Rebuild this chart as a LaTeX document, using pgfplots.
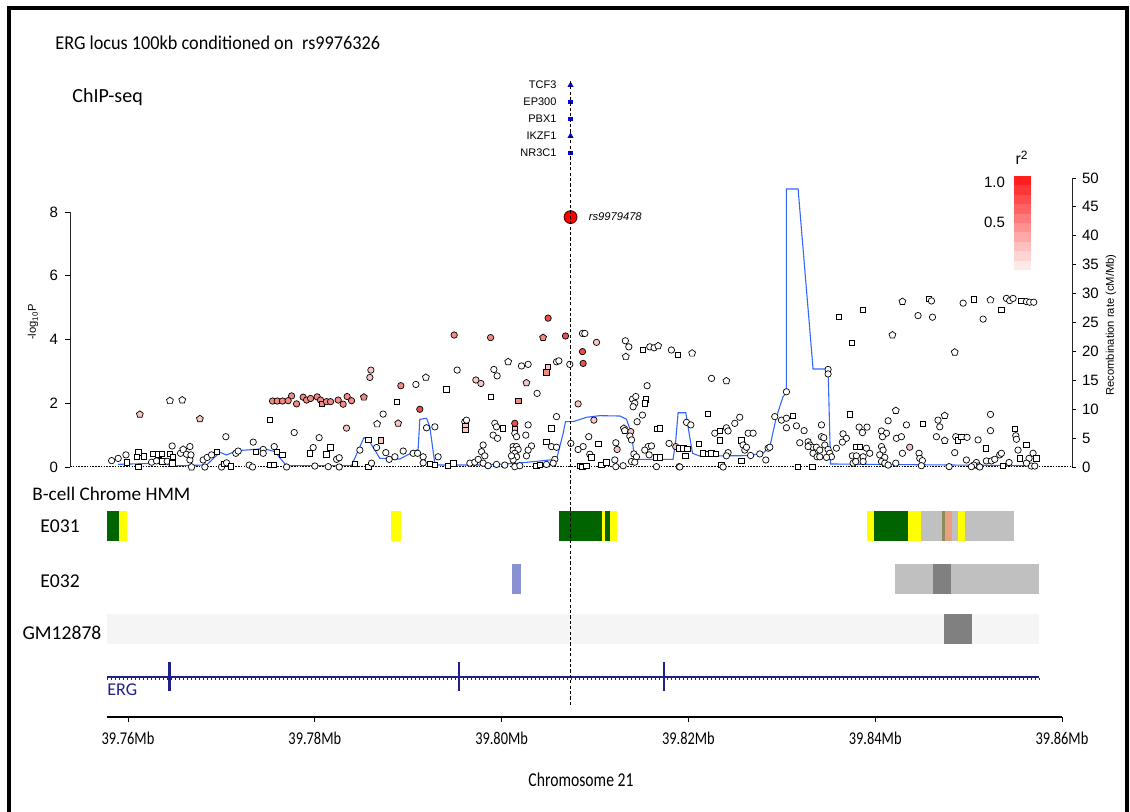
\documentclass[border=0pt]{standalone}
\usepackage{fontspec}
\setmainfont{Carlito}
\newfontfamily\arial{Liberation Sans}
\newfontfamily\cond[FakeStretch=0.8]{Carlito}
\newfontfamily\titlefont[FakeStretch=0.93]{Carlito}
\usepackage{pgfplots}
\pgfplotsset{compat=1.18}
\usepackage{pgfplotstable}
\usetikzlibrary{plotmarks}

\definecolor{recomb}{HTML}{3366FF}
\definecolor{gene}{HTML}{1F1F8C}
\definecolor{pinkA}{HTML}{F7C6C6}
\definecolor{pinkB}{HTML}{F08A84}
\definecolor{pinkC}{HTML}{EC4E4A}
\definecolor{hmmgreen}{HTML}{006400}
\definecolor{hmmyellow}{HTML}{FFFF00}
\definecolor{hmmgray}{HTML}{C0C0C0}
\definecolor{hmmdark}{HTML}{808080}
\definecolor{hmmlight}{HTML}{F5F5F5}
\definecolor{hmmblue}{HTML}{8A91D2}
\definecolor{hmmsalmon}{HTML}{E8A080}
\definecolor{hmmolive}{HTML}{8C8C5A}

\pgfplotstableread{
x y
39758.96 0.46
39762.89 0.63
39764.14 0.92
39764.50 0.17
39768.43 0.35
39769.85 2.54
39770.57 2.08
39771.64 2.82
39773.78 3.06
39774.49 3.23
39775.74 2.65
39776.46 1.21
39776.99 0.23
39783.95 0.23
39785.27 5.07
39785.73 4.79
39786.98 1.50
39789.12 1.38
39791.08 3.06
39791.26 8.25
39791.98 8.43
39792.33 6.97
39792.87 0.52
39793.05 0.35
39798.04 0.35
39801.62 0.63
39805.90 1.33
39806.61 5.83
39806.86 7.84
39807.68 7.84
39809.11 8.60
39810.54 8.88
39812.68 8.82
39813.39 8.25
39813.93 5.83
39814.18 2.37
39814.46 1.33
39818.38 1.33
39818.67 4.67
39818.92 9.39
39819.74 9.39
39820.10 5.83
39820.46 2.37
39821.24 1.90
39826.24 1.96
39828.02 2.37
39828.74 3.51
39829.45 8.70
39830.16 12.16
39830.52 12.85
39830.52 48.10
39831.77 48.10
39833.37 16.96
39834.98 16.96
39835.24 0.52
39856.22 0.23
39857.30 0.23
}\recombtab

\pgfplotstableread{
x y c
39758.26 0.20 cw
39758.96 0.27 cw
39759.79 0.38 cw
39759.86 0.15 sw
39761.10 0.46 sw
39760.93 0.32 sw
39761.71 0.34 sw
39761.10 0.01 sw
39761.28 1.65 tp1
39762.71 0.41 sw
39763.25 0.40 sw
39763.61 0.41 sw
39762.54 0.15 cw
39763.07 0.19 cw
39763.71 0.18 sw
39764.21 0.18 cw
39764.50 0.41 sw
39764.74 0.66 cw
39764.79 0.32 sw
39764.74 0.12 sw
39764.50 2.08 tw
39765.82 2.10 tw
39765.64 0.43 cw
39765.92 0.55 tw
39766.28 0.40 cw
39766.64 0.64 cw
39766.64 0.22 cw
39766.75 0.38 cw
39766.82 0.00 tw
39767.71 1.51 tp1
39768.24 0.00 cw
39768.06 0.22 cw
39768.49 0.30 cw
39768.96 0.38 cw
39769.50 0.47 sw
39770.03 0.00 cw
39770.28 0.09 sw
39770.57 0.13 cw
39771.00 0.02 sw
39770.49 0.95 cw
39771.56 0.43 cw
39771.81 0.50 cw
39772.99 0.06 cw
39773.35 0.00 cw
39773.42 0.78 cw
39773.67 0.48 sw
39774.49 0.55 cw
39774.49 0.43 cw
39775.20 1.48 sw
39775.24 0.06 sw
39775.60 0.06 sw
39775.67 0.64 cw
39775.92 0.48 sw
39776.56 0.38 sw
39776.99 0.00 cw
39777.81 1.08 cw
39777.53 2.23 cp2
39775.49 2.07 cp2
39775.99 2.07 cp2
39776.56 2.07 cp2
39777.16 2.08 cp2
39778.06 1.98 cp2
39778.77 2.19 cp2
39779.13 2.10 cp2
39779.56 2.15 cp2
39780.27 2.20 cp2
39780.63 2.10 cp2
39780.80 1.98 sp2
39781.27 2.05 cp2
39781.70 2.05 cp2
39782.52 2.10 cp2
39783.05 1.97 cp2
39783.48 2.21 cp2
39783.95 2.08 cp2
39785.27 2.19 tp2
39779.84 0.61 cw
39779.49 0.43 sw
39780.48 0.92 cw
39781.27 0.40 sw
39781.70 0.62 sw
39782.35 0.24 cw
39782.63 0.29 cw
39780.02 0.03 cw
39781.45 0.01 cw
39782.63 0.00 cw
39783.41 1.22 cp1
39784.30 0.09 sw
39785.73 0.01 sw
39786.09 0.12 cw
39784.84 0.53 cw
39785.73 0.85 sw
39786.02 3.04 cp1
39785.91 2.81 cp1
39786.63 0.61 cw
39787.06 0.83 sp1
39787.62 0.45 cw
39787.98 0.24 cw
39788.59 0.32 cw
39789.48 0.50 cw
39790.55 0.43 cw
39791.02 0.43 cw
39786.69 1.35 tw
39787.33 1.66 cw
39788.83 2.05 sw
39788.94 1.37 tp1
39789.23 2.55 cp2
39790.84 2.59 cw
39791.26 1.81 cp3
39791.91 2.81 tw
39791.98 1.23 cw
39792.87 1.26 cw
39791.62 0.32 cw
39791.62 0.13 cw
39792.33 0.09 sw
39792.87 0.06 sw
39793.22 0.32 cw
39794.94 4.14 cp2
39798.84 4.06 cp2
39805.00 4.67 cp3
39804.46 4.06 tp2
39806.86 4.11 cp3
39808.68 3.62 cp3
39808.75 3.25 cp3
39810.18 3.91 cp1
39808.68 4.19 cw
39808.93 4.19 cw
39795.26 3.04 cw
39797.26 2.73 cp1
39797.80 2.62 cp1
39799.19 3.06 cw
39799.54 2.86 cw
39800.72 3.30 tw
39802.15 3.17 cw
39802.86 3.22 cw
39802.68 2.64 tp1
39805.90 3.30 cw
39806.15 3.33 cw
39805.00 3.15 sp1
39804.82 2.97 sp2
39807.32 3.22 cw
39794.12 2.44 sw
39798.86 2.21 sw
39801.79 2.07 sp2
39803.82 2.31 cw
39805.90 1.58 cw
39808.21 1.98 cp1
39796.08 1.42 cw
39796.26 1.47 cw
39796.15 1.29 sp1
39796.15 1.16 sp1
39799.29 1.37 cw
39799.47 1.26 cw
39800.18 1.21 sw
39801.43 1.37 cp3
39801.43 1.18 sp1
39802.86 1.32 cw
39801.43 1.06 cw
39801.62 0.95 cw
39799.11 1.00 cw
39799.58 0.90 cw
39798.04 0.69 cw
39802.61 1.00 cw
39804.82 0.79 sw
39805.36 0.64 cw
39805.90 0.62 cw
39807.43 0.74 cw
39805.36 1.21 sw
39801.25 0.64 cw
39801.62 0.64 cw
39801.25 0.53 cw
39801.79 0.55 cw
39801.43 0.43 cw
39801.62 0.32 cw
39801.25 0.22 cw
39801.07 0.35 cw
39803.22 0.66 cw
39802.86 0.53 cw
39802.68 0.35 cw
39797.87 0.48 cw
39798.22 0.35 cw
39798.04 0.12 cw
39796.62 0.12 cw
39797.15 0.15 cw
39797.51 0.24 cw
39794.83 0.12 sw
39794.29 0.04 sw
39798.57 0.04 cw
39799.47 0.08 cw
39800.36 0.06 cw
39801.43 0.01 cw
39801.97 0.04 cw
39803.75 0.04 sw
39804.11 0.06 sw
39804.82 0.08 cw
39805.72 0.24 cw
39805.54 0.12 cw
39808.21 0.55 cw
39808.75 0.64 cw
39808.39 0.04 sw
39808.68 0.01 sw
39809.11 0.04 sw
39809.35 0.95 cw
39809.46 0.40 cw
39809.64 0.30 sw
39810.36 0.72 sw
39810.71 0.06 sw
39811.25 0.15 sw
39809.90 1.47 cp1
39812.25 0.76 cw
39812.39 0.55 cp1
39812.14 0.22 cw
39813.11 1.21 tw
39813.21 1.14 tw
39813.85 1.11 cp1
39813.75 0.97 cw
39813.93 0.85 cw
39814.18 0.41 cw
39814.46 0.32 cw
39813.93 0.17 cw
39814.28 0.15 cw
39812.25 0.01 cw
39813.03 0.04 cw
39813.27 3.96 cw
39813.64 3.77 cw
39813.32 3.46 tw
39815.17 3.67 sw
39815.89 3.77 cw
39816.35 3.74 cw
39816.78 3.80 tw
39818.20 3.67 cw
39818.92 3.51 sw
39820.42 3.57 tw
39815.60 2.55 cw
39822.50 2.78 cw
39814.04 2.13 cw
39814.39 2.21 cw
39815.46 2.12 sw
39814.28 2.00 cw
39814.10 1.89 cw
39815.35 2.00 sw
39815.10 1.63 cw
39814.53 1.42 cw
39816.67 1.20 sw
39816.96 1.21 sw
39815.71 0.64 cw
39815.35 0.53 cw
39815.82 0.38 cw
39816.07 0.66 cw
39816.60 0.30 sw
39816.96 0.30 sw
39816.60 0.01 cw
39817.95 0.74 cw
39818.67 0.64 cp1
39819.03 0.59 sw
39819.46 0.59 sw
39819.93 0.56 sw
39819.71 0.35 sw
39819.03 0.01 cw
39819.82 1.40 cw
39820.28 1.32 cw
39821.17 0.72 sw
39821.60 0.43 sw
39822.13 0.41 sw
39822.49 0.43 sw
39822.85 1.06 cw
39822.96 0.41 sw
39822.13 1.66 sw
39819.10 0.00 cw
39836.15 4.71 sw
39838.73 4.93 sw
39837.51 3.90 sw
39842.94 5.19 tw
39844.61 4.75 cw
39845.79 5.27 sw
39846.05 5.21 cw
39846.16 4.70 cw
39841.87 4.14 tw
39848.54 3.60 tw
39849.44 5.14 cw
39850.58 5.26 sw
39851.58 4.64 cw
39852.37 5.24 tw
39853.54 4.93 sw
39854.08 5.29 cw
39854.43 5.22 cw
39854.79 5.29 cw
39855.68 5.22 sw
39856.22 5.19 cw
39856.57 5.17 cw
39857.00 5.17 cw
39834.98 3.06 cw
39834.98 2.92 cw
39830.52 2.36 cw
39824.09 2.70 tw
39825.52 1.56 cw
39824.99 1.37 cw
39824.09 1.23 cw
39823.38 1.14 sw
39824.27 1.13 cw
39823.38 0.83 sw
39825.70 0.83 sw
39825.88 0.69 cw
39826.06 0.53 cw
39826.24 0.62 cw
39826.42 1.06 cw
39826.95 1.06 cw
39826.68 0.36 cw
39827.67 0.41 cw
39828.31 0.22 cw
39825.70 0.20 sw
39823.56 0.06 sw
39823.74 0.00 cw
39824.27 0.45 cw
39824.09 0.35 cw
39828.56 0.59 cw
39828.74 0.62 cw
39829.27 1.58 cw
39829.99 1.47 cw
39830.52 1.53 cw
39830.52 1.23 cw
39831.23 1.60 sw
39831.59 1.29 cw
39832.41 1.14 cw
39831.95 0.76 cw
39832.84 0.79 cw
39833.02 0.69 cw
39833.31 0.62 cw
39833.73 0.62 cw
39834.09 0.53 cw
39833.37 0.43 cw
39833.80 0.32 cw
39832.84 0.64 cw
39834.27 1.32 cw
39834.27 0.95 cw
39834.52 0.92 cw
39834.63 0.69 cw
39834.98 0.55 cw
39835.16 0.43 cw
39835.34 0.32 cw
39834.81 0.30 cw
39834.09 0.32 cw
39831.77 0.00 sw
39833.31 0.00 sw
39835.87 0.59 cw
39836.58 1.04 cw
39836.94 0.90 cw
39836.51 0.78 cw
39837.30 1.65 sw
39838.01 0.64 sw
39838.37 0.64 sw
39839.08 0.59 cw
39839.44 0.43 cw
39838.30 1.25 cw
39838.66 1.08 cw
39839.15 1.25 cw
39837.58 0.35 cw
39838.01 0.35 cw
39838.73 0.32 cw
39837.66 0.12 cw
39837.94 0.17 cw
39838.73 0.17 cw
39840.70 1.13 cw
39841.23 1.06 cw
39841.41 1.45 cw
39840.80 0.95 cw
39842.30 0.90 cw
39842.83 0.95 cw
39840.70 0.64 cw
39840.87 0.53 cw
39840.51 0.38 cw
39841.05 0.30 cw
39840.70 0.17 cw
39841.05 0.12 cw
39841.41 0.06 cw
39842.23 0.12 cw
39842.23 1.77 tw
39843.37 1.32 cw
39845.15 1.35 sw
39846.75 1.47 cw
39847.47 1.61 tw
39846.94 1.26 cw
39846.58 0.95 cw
39847.47 0.83 tw
39842.94 0.43 cw
39843.72 0.62 cp1
39844.72 0.43 cw
39844.80 0.27 cw
39845.08 0.20 cw
39844.97 0.04 cw
39848.54 0.45 cw
39848.65 0.95 cw
39848.90 0.83 sw
39849.26 0.95 sw
39849.86 0.93 cw
39851.04 0.85 cw
39852.37 1.14 cw
39852.37 1.65 cw
39849.79 0.22 cw
39850.86 0.14 cw
39851.04 0.03 cw
39850.58 0.06 cw
39851.86 0.59 sw
39851.93 0.19 cw
39852.47 0.19 cw
39852.83 0.24 cw
39853.36 0.38 cw
39853.54 0.43 cw
39853.72 0.04 sw
39854.36 0.14 cw
39854.97 1.19 sw
39855.08 0.98 cw
39855.15 0.87 cw
39855.32 0.53 cw
39856.22 0.69 sw
39856.50 0.27 cw
39855.50 0.27 sw
39856.93 0.43 cw
39857.29 0.27 sw
39856.75 0.03 cw
39857.11 0.03 cw
39856.22 0.12 cw
39847.94 0.01 cw
39850.33 0.01 cw
39851.22 0.00 cw
}\snps

\newcommand\trk[5]{\addplot[fill=#1,draw=none,forget plot] coordinates {(#2,#4) (#3,#4) (#3,#5) (#2,#5)};}

\begin{document}
\begin{tikzpicture}
\useasboundingbox (0,0) rectangle (565pt,406pt);

% right axis: recombination rate
\begin{axis}[
  at={(35pt,172.5pt)}, anchor=south west, scale only axis,
  width=501pt, height=144.5pt,
  xmin=39753.8, xmax=39861.1, ymin=0, ymax=50,
  axis x line=none, axis y line*=right,
  ytick={0,5,...,50},
  tick align=outside, major tick length=1.8pt,
  every tick/.style={black, line width=0.4pt},
  axis line style={line width=0.5pt, black!85},
  yticklabel style={font=\arial\fontsize{7.5}{8}\selectfont, xshift=-0.3pt},
  /pgf/number format/assume math mode=true,
  scaled x ticks=false,
  clip=false,
]
\addplot[recomb, line width=0.55pt] table[x=x,y=y] {\recombtab};
\end{axis}

% left axis: -log10 P
\begin{axis}[
  at={(35pt,172.5pt)}, anchor=south west, scale only axis,
  width=501pt, height=127.5pt,
  xmin=39753.8, xmax=39861.1, ymin=0, ymax=8,
  axis x line=none, axis y line*=left,
  ytick={0,2,4,6,8},
  tick align=outside, major tick length=2.5pt,
  every tick/.style={black, line width=0.4pt},
  axis line style={line width=0.5pt, black!85},
  yticklabel style={font=\arial\fontsize{7.5}{8}\selectfont},
  /pgf/number format/assume math mode=true,
  scaled x ticks=false,
  clip=false,
]
\addplot[black, line width=0.5pt, dash pattern=on 0.8pt off 0.6pt] coordinates {(39753.8,0) (39861.1,0)};
\addplot[scatter, only marks, scatter src=explicit symbolic, mark size=1.6pt, line width=0.35pt,
  scatter/classes={
    cw={mark=*,draw=black,fill=white},
    sw={mark=square*,mark size=1.35pt,draw=black,fill=white},
    tw={mark=pentagon*,mark size=1.8pt,draw=black,fill=white},
    cp1={mark=*,draw=black,fill=pinkA},
    sp1={mark=square*,mark size=1.35pt,draw=black,fill=pinkA},
    tp1={mark=pentagon*,mark size=1.8pt,draw=black,fill=pinkA},
    cp2={mark=*,draw=black,fill=pinkB},
    sp2={mark=square*,mark size=1.35pt,draw=black,fill=pinkB},
    tp2={mark=pentagon*,mark size=1.8pt,draw=black,fill=pinkB},
    cp3={mark=*,draw=black,fill=pinkC}
  }] table[x=x,y=y,meta=c] {\snps};
% lead SNP
\addplot[only marks, mark=*, mark size=3.2pt, line width=0.5pt, draw=black!60!red, fill=red] coordinates {(39807.4,7.84)};
\node[anchor=west, font=\arial\itshape\fontsize{5.6}{6}\selectfont] at (axis cs:39807.4,7.84) [xshift=5.6pt] {rs9979478};
% ChIP-seq marks
\addplot[only marks, mark=triangle*, mark size=1.4pt, blue] coordinates {(39807.4,11.98) (39807.4,10.38)};
\addplot[only marks, mark=square*, mark size=0.9pt, blue] coordinates {(39807.4,11.45) (39807.4,10.92) (39807.4,9.85)};
\node[anchor=east, font=\arial\fontsize{5.5}{6}\selectfont] at (axis cs:39807.4,11.98) [xshift=-3.5pt] {TCF3};
\node[anchor=east, font=\arial\fontsize{5.5}{6}\selectfont] at (axis cs:39807.4,11.45) [xshift=-3.5pt] {EP300};
\node[anchor=east, font=\arial\fontsize{5.5}{6}\selectfont] at (axis cs:39807.4,10.92) [xshift=-3.5pt] {PBX1};
\node[anchor=east, font=\arial\fontsize{5.5}{6}\selectfont] at (axis cs:39807.4,10.38) [xshift=-3.5pt] {IKZF1};
\node[anchor=east, font=\arial\fontsize{5.5}{6}\selectfont] at (axis cs:39807.4,9.85) [xshift=-3.5pt] {NR3C1};
\end{axis}

% bottom axis: chromHMM tracks, gene, position
\begin{axis}[
  at={(53.5pt,47.5pt)}, anchor=south west, scale only axis,
  width=477.5pt, height=113.5pt,
  xmin=39757.75, xmax=39860, ymin=0, ymax=227,
  axis y line=none, axis x line*=bottom,
  xtick={39760,39780,39800,39820,39840,39860},
  xticklabels={39.76Mb,39.78Mb,39.80Mb,39.82Mb,39.84Mb,39.86Mb},
  scaled x ticks=false,
  tick align=outside, major tick length=2.5pt,
  every tick/.style={black, line width=0.5pt},
  axis line style={line width=0.6pt, black},
  xticklabel style={font=\cond\fontsize{9}{10}\selectfont, yshift=-1.5pt},
  clip=false,
]
% E031
\trk{hmmgreen}{39757.75}{39759.04}{176}{206}
\trk{hmmyellow}{39759.04}{39759.89}{176}{206}
\trk{hmmyellow}{39788.12}{39789.27}{176}{206}
\trk{hmmgreen}{39806.15}{39810.75}{176}{206}
\trk{hmmyellow}{39810.75}{39811.07}{176}{206}
\trk{hmmgreen}{39811.07}{39811.61}{176}{206}
\trk{hmmyellow}{39811.61}{39812.36}{176}{206}
\trk{hmmyellow}{39839.12}{39839.87}{176}{206}
\trk{hmmgreen}{39839.87}{39843.46}{176}{206}
\trk{hmmyellow}{39843.46}{39844.90}{176}{206}
\trk{hmmgray}{39844.90}{39847.15}{176}{206}
\trk{hmmolive}{39847.15}{39847.47}{176}{206}
\trk{hmmsalmon}{39847.47}{39848.22}{176}{206}
\trk{hmmgray}{39848.22}{39848.87}{176}{206}
\trk{hmmyellow}{39848.87}{39849.60}{176}{206}
\trk{hmmgray}{39849.60}{39854.81}{176}{206}
% E032
\trk{hmmblue}{39801.11}{39802.08}{123}{153}
\trk{hmmgray}{39842.12}{39857.54}{123}{153}
\trk{hmmdark}{39846.19}{39848.12}{123}{153}
% GM12878
\trk{hmmlight}{39757.75}{39857.54}{73}{103}
\trk{hmmdark}{39847.37}{39850.36}{73}{103}
% gene ERG
\addplot[gene, line width=0.9pt] coordinates {(39757.75,40) (39857.54,40)};
\addplot[gene, line width=1pt, dash pattern=on 0.35pt off 1.65pt] coordinates {(39757.75,38) (39857.54,38)};
\addplot[gene, line width=1.1pt] coordinates {(39764.44,26) (39764.44,55)};
\addplot[gene, line width=1.1pt] coordinates {(39795.44,26) (39795.44,55)};
\addplot[gene, line width=1.1pt] coordinates {(39817.39,26) (39817.39,55)};
% index SNP position
\addplot[black, line width=0.5pt, dash pattern=on 1.6pt off 1.1pt] coordinates {(39807.4,12) (39807.4,637)};
\end{axis}

\begin{scope}[x=0.5pt,y=-0.5pt,shift={(0pt,406pt)}]
\draw[line width=1.6pt] (9,814) -- (9,8) -- (1127,8) -- (1127,814);
\node[anchor=base west, font=\titlefont\fontsize{9.8}{11}\selectfont, inner sep=0pt] at (55,50) {ERG locus 100kb conditioned on\hspace{0.45em}rs9976326};
\node[anchor=base west, font=\fontsize{10}{12}\selectfont, inner sep=0pt] at (72,103) {ChIP-seq};
\node[anchor=base west, font=\fontsize{9.6}{11}\selectfont, inner sep=0pt] at (32,501) {B-cell Chrome HMM};
\node[font=\fontsize{9.8}{11}\selectfont] at (60,526) {E031};
\node[font=\fontsize{9.8}{11}\selectfont] at (60,581) {E032};
\node[font=\fontsize{9.8}{11}\selectfont] at (62,633) {GM12878};
\node[anchor=base west, text=gene, font=\fontsize{9}{10}\selectfont, inner sep=0pt] at (107,696) {ERG};
\node[font=\cond\fontsize{9.8}{10}\selectfont] at (581,780) {Chromosome 21};
\node[rotate=90, font=\arial\fontsize{5.6}{6}\selectfont] at (33,322) {-log\textsubscript{10}P};
\node[rotate=90, font=\arial\fontsize{5.6}{6}\selectfont] at (1111,325) {Recombination rate (cM/Mb)};
\node[font=\arial\fontsize{8}{9}\selectfont] at (1022,158) {r\textsuperscript{2}};
\node[anchor=east, font=\arial\fontsize{7.5}{8}\selectfont] at (1012,182) {1.0};
\node[anchor=east, font=\arial\fontsize{7.5}{8}\selectfont] at (1012,222) {0.5};
\foreach \i/\c in {0/88,1/79,2/70,3/61,4/52,5/43,6/34,7/25,8/17,9/9}{
  \fill[red!\c!white] (1014,{176+9.4*\i}) rectangle (1031,{176+9.4*(\i+1)+0.2});
}
\end{scope}
\end{tikzpicture}
\end{document}
